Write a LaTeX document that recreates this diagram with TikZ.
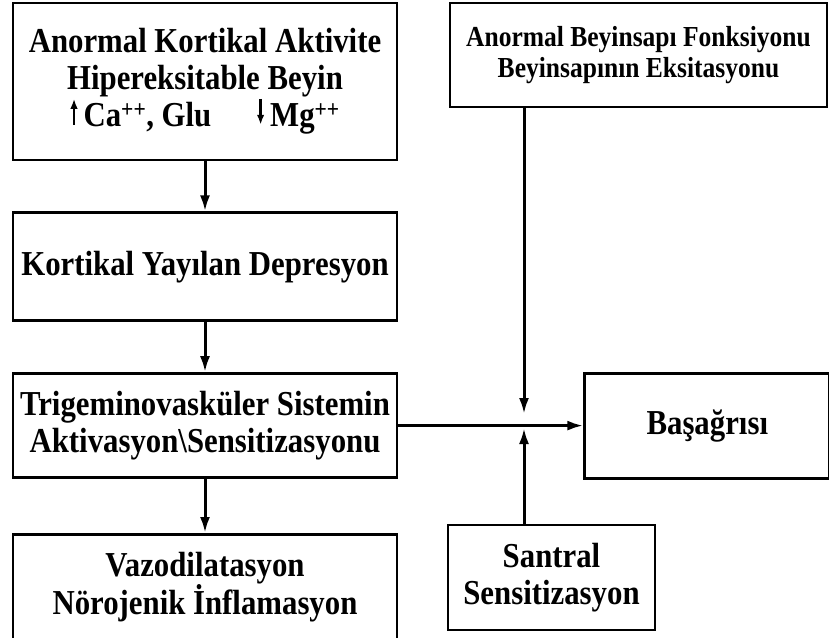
\documentclass[tikz,border=0pt]{standalone}
\usepackage{fontspec}
\setmainfont{Liberation Serif}[FakeStretch=0.88]
\usetikzlibrary{positioning,arrows.meta}
\tikzset{kutu/.style={draw, line width=2.8pt, align=center, inner sep=0pt,
                      font=\bfseries\fontsize{35}{37}\selectfont},
         okcizgi/.style={draw, line width=3pt, -{Latex[length=16pt,width=10pt]}},
         yukari/.style={line width=2.4pt, -{Latex[length=10pt,width=7.5pt]}}}
\newcommand{\yukariok}{\tikz[baseline=-2pt]\draw[yukari] (0,0) -- (0,26pt);}
\newcommand{\asagiok}{\tikz[baseline=-2pt]\draw[yukari] (0,26pt) -- (0,0);}

\begin{document}
\begin{tikzpicture}[x=1pt,y=1pt]
                   \useasboundingbox (0,0) rectangle (829,-637);
                   \node[kutu,minimum width=384pt,minimum height=157pt] (akt) at (205,-81.5)
                        {Anormal Kortikal Aktivite\\
                         Hipereksitable Beyin\\
                         \yukariok\,Ca\textsuperscript{++}, Glu\hspace{1.3em}\asagiok\,Mg\textsuperscript{++}};
                   \node[kutu,minimum width=384pt,minimum height=108pt] (kyd) [below=50pt of akt]
                        {Kortikal Yayılan Depresyon};
                   \node[kutu,minimum width=384pt,minimum height=104pt] (tvs) [below=50pt of kyd]
                        {Trigeminovasküler Sistemin\\ Aktivasyon\textbackslash Sensitizasyonu};
                   \node[kutu,minimum width=384pt,minimum height=105pt] (vaz) [below=54pt of tvs]
                        {Vazodilatasyon\\ Nörojenik İnflamasyon};
                   \node[kutu,minimum width=377pt,minimum height=104pt,
                         font=\bfseries\fontsize{29}{31}\selectfont] (beyin) at (638.5,-55)
                        {Anormal Beyinsapı Fonksiyonu\\ Beyinsapının Eksitasyonu};
                   \node[kutu,minimum width=245pt,minimum height=105pt] (bas) [right=185pt of tvs]
                        {Başağrısı};
                   \node[kutu,minimum width=207pt,minimum height=105pt] (santral) at (551.5,-577.5)
                        {Santral\\ Sensitizasyon};
                   \coordinate (ust) at (524,-414);
                   \coordinate (alt) at (524,-428);
                    \draw[okcizgi] (akt) -- (kyd);
                    \draw[okcizgi] (kyd) -- (tvs);
                    \draw[okcizgi] (tvs) -- (vaz);
                    \draw[okcizgi] (tvs) -- (bas);
                    \draw[okcizgi] (beyin.south -| ust) -- (ust);
                    \draw[okcizgi] (santral.north -| alt) -- (alt);
                \end{tikzpicture}
\end{document}
